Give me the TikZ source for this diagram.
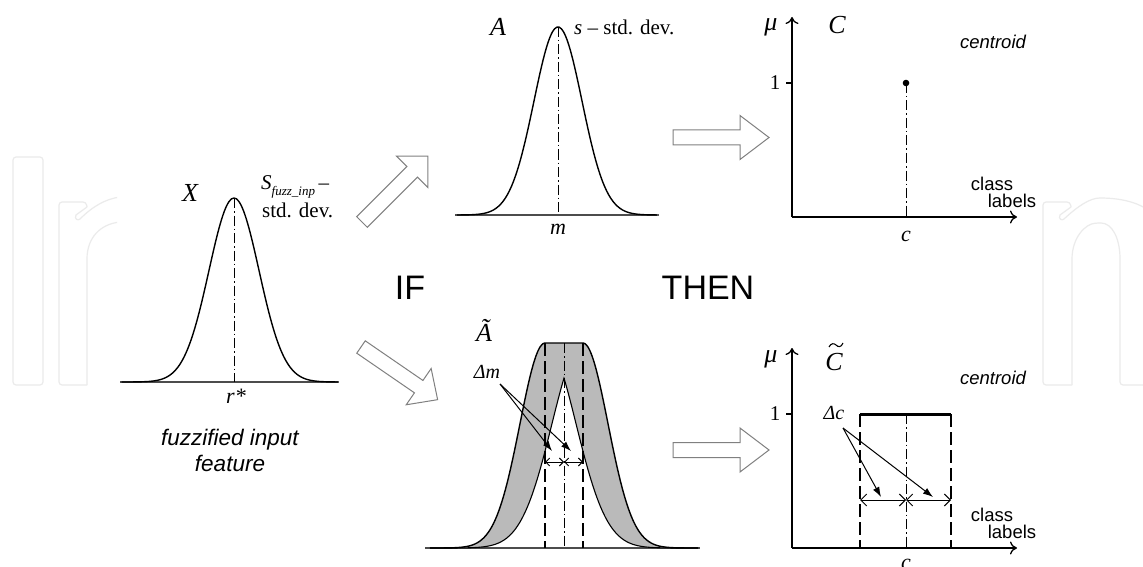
\documentclass[tikz,border=0pt]{standalone}
\usepackage{fontspec}
\setmainfont{Liberation Serif}
\newfontfamily\sansf{Liberation Sans}
\usetikzlibrary{arrows.meta}
\newcommand\bigarrow[5]{%
  \begin{scope}[shift={(#1,#2)},rotate=#3]
    \draw[barrow] (0,-7.5) -- ({#4-#5},-7.5) -- ({#4-#5},-22) -- (#4,0) -- ({#4-#5},22) -- ({#4-#5},7.5) -- (0,7.5) -- cycle;
  \end{scope}}
\begin{document}
\begin{tikzpicture}[x=1pt,y=-1pt,
  curve/.style={line width=1.4pt,black},
  baseln/.style={line width=1.3pt,black!70},
  dashdot/.style={line width=1pt,dash pattern=on 10pt off 3pt on 1.5pt off 3pt},
  dashv/.style={line width=1.05pt,dash pattern=on 13pt off 5pt},
  barrow/.style={draw=black!50,line width=1pt,fill=white,line join=miter},
  axis/.style={line width=1.3pt,-{To[length=7pt,width=13pt]}},
  wm/.style={draw=black!8,line width=1.2pt,rounded corners=3pt},
  big/.style={font=\fontsize{26}{26}\selectfont\itshape},
  lbl/.style={font=\fontsize{21}{24}\selectfont},
  mu/.style={font=\fontsize{26}{26}\selectfont\itshape},
  ilbl/.style={font=\fontsize{22}{24}\selectfont\itshape},
  sans/.style={font=\fontsize{18.5}{20}\selectfont\sansf\itshape},
  sansu/.style={font=\fontsize{18.5}{19}\selectfont\sansf},
  word/.style={font=\fontsize{34}{34}\selectfont\sansf},
  callout/.style={line width=1pt,-{Latex[length=10pt,width=7pt]}},
  dim/.style={line width=0.9pt,{Straight Barb[length=4pt,width=8pt]}-{Straight Barb[length=4pt,width=8pt]}},
  dimc/.style={line width=1pt,{Straight Barb[length=6pt,width=12pt]}-{Straight Barb[length=6pt,width=12pt]}},
  inner sep=0pt]
\useasboundingbox (0,0) rectangle (1143,567);
\fill[white] (0,0) rectangle (1143,567);

% watermark
\begin{scope}
  \clip (0,0) rectangle (117,567);
  \draw[wm] (13,157) rectangle (43,385);
  \draw[wm] (87,385) -- (87,262) .. controls (87,238) and (100,224) .. (120,222);
  \draw[wm] (87,385) -- (59,385) -- (59,202) -- (86,202) -- (87,207);
  \draw[line width=1.2pt,draw=black!8] (87,207) -- (76,215) .. controls (74,219) and (78,221) .. (80,219) .. controls (92,207) and (105,199) .. (120,197);
\end{scope}
\draw[wm] (1072,385) -- (1072,262) .. controls (1072,238) and (1085,224) .. (1098,223) .. controls (1112,223) and (1120,238) .. (1120,262) -- (1120,385) -- (1145,385);
\draw[wm] (1072,385) -- (1043,385) -- (1043,202) -- (1070,202) -- (1071,207);
\draw[line width=1.2pt,draw=black!8] (1071,207) -- (1060,215) .. controls (1058,219) and (1062,221) .. (1064,219) .. controls (1078,206) and (1090,198) .. (1100,198) .. controls (1120,198) and (1135,202) .. (1145,208);

% ---------- X ----------
\draw[baseln] (120,382) -- (338,382);
\draw[curve] plot[domain=-4.5:4.2,samples=90,smooth] ({234+25*\x},{382-184*exp(-(\x)^2/2)});
\draw[dashdot] (234,198) -- (234,382);
\node[big] (X) at (190,193) {X};
\node[ilbl] (rstar) at (236,396) {r*};
\node[lbl,anchor=west] (sfuzz) at (261,187) {\textit{S}\raisebox{-0.3em}{\fontsize{13}{13}\selectfont\textit{fuzz\_inp}}\,–};
\node[lbl,anchor=west] (sdev1) at (262,210) {std. dev.};
\node[font=\fontsize{22.5}{26}\selectfont\sansf\itshape,align=center] (fuzz) at (230,450) {fuzzified input\\feature};

% ---------- A ----------
\draw[baseln] (455,215) -- (657,215);
\draw[curve] plot[domain=-4.2:4.2,samples=90,smooth] ({558+24*\x},{215-188*exp(-(\x)^2/2)});
\draw[dashdot] (558,27) -- (558,215);
\node[big] (A) at (498,27) {A};
\node[lbl,anchor=west] (sdev2) at (574,27) {\textit{s} – std. dev.};
\node[ilbl] (m) at (558,229) {m};

% ---------- C ----------
\draw[axis] (792,217) -- (792,17);
\draw[axis] (792,217) -- (1017,217);
\node[mu] (mu1) at (771,27) {μ};
\node[big] (C) at (837,25) {C};
\draw[line width=1.2pt] (786,83) -- (792,83);
\node[lbl] (one1) at (775,83) {1};
\draw[dashdot] (906,83) -- (906,217);
\fill (906,83) circle (3.3pt);
\node[ilbl] (c1) at (906,236) {c};
\node[sans] (cent1) at (993,42) {centroid};
\node[sansu] (cls1a) at (992,184) {class};
\node[sansu] (cls1b) at (1012,201) {labels};

% ---------- Ã ----------
\draw[baseln] (425,548) -- (700,548);
\fill[black!27]
  plot[domain=-4.6:0,samples=50,smooth] ({545+25*\x},{548-205*exp(-(\x)^2/2)})
  -- plot[domain=0:4.6,samples=50,smooth] ({583+25*\x},{548-205*exp(-(\x)^2/2)})
  -- plot[domain=-4.94:-0.613,samples=50,smooth] ({545-31*\x},{548-205*exp(-(\x)^2/2)})
  -- plot[domain=0.613:4.94,samples=50,smooth] ({583-31*\x},{548-205*exp(-(\x)^2/2)})
  -- cycle;
\draw[curve]
  plot[domain=-4.6:0,samples=50,smooth] ({545+25*\x},{548-205*exp(-(\x)^2/2)})
  -- plot[domain=0:4.6,samples=50,smooth] ({583+25*\x},{548-205*exp(-(\x)^2/2)});
\draw[line width=1.1pt]
  plot[domain=-4.94:-0.613,samples=50,smooth] ({545-31*\x},{548-205*exp(-(\x)^2/2)})
  -- plot[domain=0.613:4.94,samples=50,smooth] ({583-31*\x},{548-205*exp(-(\x)^2/2)});
\draw[dashv] (545,343) -- (545,548);
\draw[dashv] (583,343) -- (583,548);
\draw[dashdot] (564,343) -- (564,548);
\draw[dim] (545,462) -- (564,462);
\draw[dim] (564,462) -- (583,462);
\node[big] (At) at (484,330) {Ã};
\node[font=\fontsize{20}{22}\selectfont\itshape] (dm) at (487,372) {Δm};
\coordinate (dmS) at (500,384);
\coordinate (dmE1) at (552,451);
\coordinate (dmE2) at (571,451);
\draw[callout] (dmS) -- (dmE1);
\draw[callout] (dmS) -- (dmE2);

% ---------- C~ ----------
\draw[axis] (792,548) -- (792,348);
\draw[axis] (792,548) -- (1017,548);
\node[mu] (mu2) at (771,359) {μ};
\node[big] (Ct) at (834,362) {C};
\draw[line width=1.1pt] (829,347) .. controls (831,343) and (834,343) .. (836,345) .. controls (838,347) and (841,348) .. (843,343);
\draw[line width=1.2pt] (786,414) -- (792,414);
\node[lbl] (one2) at (775,414) {1};
\draw[line width=3pt] (860,414) -- (951,414);
\draw[dashv] (860,414) -- (860,548);
\draw[dashv] (951,414) -- (951,548);
\draw[dashdot] (906,414) -- (906,548);
\draw[dimc] (860,500) -- (906,500);
\draw[dimc] (906,500) -- (951,500);
\node[font=\fontsize{20}{22}\selectfont\itshape] (dc) at (834,413) {Δc};
\coordinate (dcS) at (843,428);
\coordinate (dcE1) at (881,497);
\coordinate (dcE2) at (933,497);
\draw[callout] (dcS) -- (dcE1);
\draw[callout] (dcS) -- (dcE2);
\node[ilbl] (c2) at (906,564) {c};
\node[sans] (cent2) at (993,378) {centroid};
\node[sansu] (cls2a) at (992,515) {class};
\node[sansu] (cls2b) at (1012,532) {labels};

% ---------- block arrows & words ----------
\bigarrow{362}{222}{45}{93}{22}
\bigarrow{361}{347}{-34.5}{93}{23}
\bigarrow{673}{137.5}{0}{96}{29}
\bigarrow{673}{450}{0}{96}{29}
\node[word] (IF) at (410,288) {IF};
\node[word] (THEN) at (708,288) {THEN};
\end{tikzpicture}
\end{document}
